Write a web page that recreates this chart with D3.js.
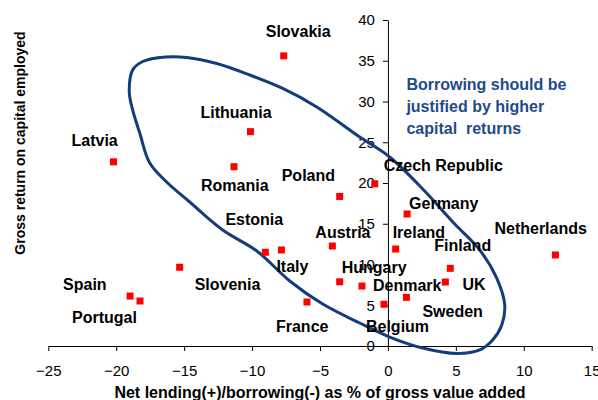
<!DOCTYPE html>
<html>
<head>
<meta charset="utf-8">
<script src="https://cdn.jsdelivr.net/npm/d3@7"></script>
<style>
  body { margin: 0; background: #fff; }
  text { font-family: "Liberation Sans", Arial, sans-serif; }
</style>
</head>
<body>
<div id="chart"></div>
<script>
// Country data: net lending(+)/borrowing(-) and gross return on capital
const countries = ["Slovakia", "Lithuania", "Latvia", "Romania", "Poland", "Czech Republic",
  "Germany", "Ireland", "Austria", "Estonia", "Italy", "Slovenia", "Spain", "Portugal",
  "France", "Hungary", "Denmark", "Belgium", "Sweden", "Finland", "UK", "Netherlands"];
const netLending = [-7.67, -10.12, -20.2, -11.33, -3.55, -0.97,
  1.41, 0.57, -4.09, -9.02, -7.84, -15.33, -18.98, -18.25,
  -5.96, -3.55, -1.91, -0.29, 1.36, 4.59, 4.23, 12.33];
const grossReturn = [35.6, 26.3, 22.6, 22.0, 18.35, 19.9,
  16.2, 11.9, 12.27, 11.5, 11.78, 9.66, 6.13, 5.52,
  5.4, 7.88, 7.36, 5.12, 5.97, 9.53, 7.85, 11.17];

// Tick labels
const xTicks = [-25, -20, -15, -10, -5, 0, 5, 10, 15];
const yTicks = [0, 5, 10, 15, 20, 25, 30, 35, 40];

// Hand drawn loop around the borrowers (data units)
const loopX = [-19.04, -18.79, -18.05, -16.36, -14.81, -12.60, -10.17, -7.74, -5.24, -2.08,
  0.13, 2.63, 4.92, 6.76, 8.01, 8.60, 8.38, 7.71, 6.76, 5.06,
  2.56, 0.13, -2.08, -4.80, -7.23, -9.65, -12.16, -14.59, -16.21, -17.53,
  -18.27, -18.79];
const loopY = [31.17, 33.87, 34.91, 35.46, 35.40, 34.66, 33.25, 31.60, 29.33, 25.64,
  23.19, 19.14, 14.97, 11.78, 8.34, 5.03, 2.58, 0.74, -0.49, -0.92,
  -0.25, 1.10, 2.82, 5.15, 7.98, 11.66, 14.23, 17.67, 20.0, 22.45,
  26.13, 28.96];

const noteLines = ["Borrowing should be", "justified by higher", "capital  returns"];

// Label placement relative to each marker (px)
const labelOffset = {
  "Slovakia": [-18, -19], "Lithuania": [-50, -14], "Latvia": [-42, -16],
  "Romania": [-33, 24], "Poland": [-58, -15], "Czech Republic": [9, -13],
  "Germany": [2, -5], "Ireland": [-3, -11], "Austria": [-17, -8],
  "Estonia": [-40, -27], "Italy": [-5, 22], "Slovenia": [15, 23],
  "Spain": [-67, -6], "Portugal": [-68, 22], "France": [-31, 30],
  "Hungary": [2, -9], "Denmark": [11, 5], "Belgium": [-18, 28],
  "Sweden": [16, 20], "Finland": [-16, -17], "UK": [17, 8],
  "Netherlands": [-61, -21]
};

const margin = { top: 20, right: 6.3, bottom: 54, left: 48.3 };
const width = 598 - margin.left - margin.right;
const height = 400 - margin.top - margin.bottom;

const svg = d3.select("#chart")
  .append("svg")
  .attr("width", 598)
  .attr("height", 400)
  .append("g")
  .attr("transform", `translate(${margin.left},${margin.top})`);

const x = d3.scaleLinear().domain([-25, 15]).range([0, width]);
const y = d3.scaleLinear().domain([0, 40]).range([height, 0]);

// Axes cross at the origin
const xAxis = svg.append("g")
  .attr("transform", `translate(0,${y(0)})`)
  .call(d3.axisBottom(x).tickValues(xTicks).tickSize(5).tickSizeOuter(0).tickPadding(14));

const yAxis = svg.append("g")
  .attr("transform", `translate(${x(0)},0)`)
  .call(d3.axisLeft(y).tickValues(yTicks).tickSize(5).tickSizeOuter(0).tickPadding(8));

[xAxis, yAxis].forEach(g => {
  g.attr("font-family", null).attr("font-size", null);
  g.selectAll("text").style("font-size", "15px").attr("fill", "#000");
  g.selectAll("line, path").attr("stroke", "#000");
});

// Loop annotation
const loop = d3.zip(loopX, loopY);
svg.append("path")
  .attr("d", d3.line().x(d => x(d[0])).y(d => y(d[1])).curve(d3.curveCatmullRomClosed)(loop))
  .attr("fill", "none")
  .attr("stroke", "#123c7c")
  .attr("stroke-width", 3);

// Markers
const pts = countries.map((c, i) => ({ name: c, nx: netLending[i], gr: grossReturn[i] }));

svg.selectAll("rect.pt")
  .data(pts)
  .enter()
  .append("rect")
  .attr("class", "pt")
  .attr("x", d => x(d.nx) - 3.5)
  .attr("y", d => y(d.gr) - 3.5)
  .attr("width", 7)
  .attr("height", 7)
  .attr("fill", "#ff0000");

svg.selectAll("text.lbl")
  .data(pts)
  .enter()
  .append("text")
  .attr("class", "lbl")
  .attr("x", d => x(d.nx) + labelOffset[d.name][0])
  .attr("y", d => y(d.gr) + labelOffset[d.name][1])
  .style("font-size", "16px")
  .style("font-weight", "bold")
  .attr("fill", "#000")
  .text(d => d.name);

// Note text
svg.append("text")
  .attr("x", x(1.36))
  .attr("y", y(31.4))
  .style("font-size", "16px")
  .style("font-weight", "bold")
  .style("white-space", "pre")
  .attr("fill", "#1f4a8c")
  .selectAll("tspan")
  .data(noteLines)
  .enter()
  .append("tspan")
  .attr("x", x(1.36))
  .attr("dy", (d, i) => i === 0 ? 0 : 22)
  .text(d => d);

// Axis titles
svg.append("text")
  .attr("x", width / 2)
  .attr("y", height + 52)
  .attr("text-anchor", "middle")
  .style("font-size", "16px")
  .style("font-weight", "bold")
  .text("Net lending(+)/borrowing(-) as % of gross value added");

svg.append("text")
  .attr("transform", "rotate(-90)")
  .attr("x", -(143 - margin.top))
  .attr("y", 25 - margin.left)
  .attr("text-anchor", "middle")
  .style("font-size", "14px")
  .style("font-weight", "bold")
  .text("Gross return on capital employed");
</script>
</body>
</html>
